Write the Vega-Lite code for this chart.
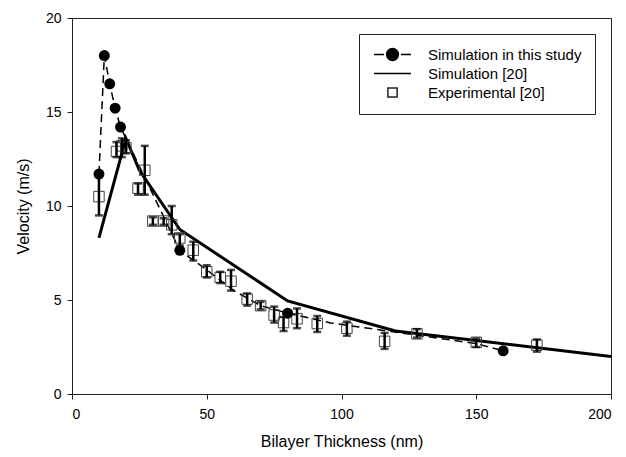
{
  "$schema": "https://vega.github.io/schema/vega-lite/v6.json",
  "autosize": "none",
  "width": 539,
  "height": 376,
  "padding": {"left": 72, "top": 18, "right": 15, "bottom": 63},
  "background": "white",
  "config": {
    "font": "Liberation Sans",
    "view": {"stroke": "#222", "strokeWidth": 1},
    "axis": {"grid": false, "domainColor": "#222", "tickColor": "#222", "tickSize": 5, "labelFontSize": 14, "labelColor": "black", "titleFontSize": 16, "titleFontWeight": "normal", "titleColor": "black", "labelFont": "Liberation Sans", "titleFont": "Liberation Sans"},
    "legend": {"title": null, "orient": "none", "legendX": 287, "legendY": 16, "strokeColor": "#222", "padding": 13, "labelFontSize": 15, "labelFont": "Liberation Sans", "labelColor": "black", "symbolSize": 144, "symbolStrokeWidth": 1.5, "symbolOffset": 13, "labelOffset": 28, "rowPadding": 2}
  },
  "datasets": {
    "sim": [
      {"x": 10, "y": 11.7}, {"x": 12, "y": 18.0}, {"x": 14, "y": 16.5}, {"x": 16, "y": 15.2}, {"x": 18, "y": 14.2},
      {"x": 40, "y": 7.64}, {"x": 80, "y": 4.3}, {"x": 160, "y": 2.3}
    ],
    "dash": [
      {"x": 10, "y": 11.7}, {"x": 12, "y": 18.0}, {"x": 14, "y": 16.5}, {"x": 16, "y": 15.2}, {"x": 18, "y": 14.2},
      {"x": 40, "y": 7.64}, {"x": 50, "y": 6.6}, {"x": 60, "y": 5.5}, {"x": 70, "y": 4.7}, {"x": 80, "y": 4.3},
      {"x": 96, "y": 3.78}, {"x": 150, "y": 2.68}, {"x": 160, "y": 2.3}
    ],
    "lit": [
      {"x": 10, "y": 8.3}, {"x": 20, "y": 13.6}, {"x": 25, "y": 11.9}, {"x": 40, "y": 8.75},
      {"x": 80, "y": 4.95}, {"x": 120, "y": 3.35}, {"x": 200, "y": 2.0}
    ],
    "exp": [
      {"x": 10, "y": 10.5, "lo": 9.5, "hi": 11.6},
      {"x": 16.5, "y": 12.9, "lo": 12.6, "hi": 13.4},
      {"x": 18.5, "y": 13.2, "lo": 12.6, "hi": 13.6},
      {"x": 20, "y": 13.1, "lo": 12.8, "hi": 13.5},
      {"x": 24.5, "y": 10.95, "lo": 10.6, "hi": 11.2},
      {"x": 27, "y": 11.9, "lo": 10.6, "hi": 13.2},
      {"x": 30, "y": 9.2, "lo": 9.0, "hi": 9.4},
      {"x": 34, "y": 9.2, "lo": 9.0, "hi": 9.35},
      {"x": 37, "y": 9.0, "lo": 8.5, "hi": 10.0},
      {"x": 40, "y": 8.3, "lo": 7.9, "hi": 8.5},
      {"x": 45, "y": 7.65, "lo": 7.1, "hi": 8.1},
      {"x": 50, "y": 6.5, "lo": 6.2, "hi": 6.85},
      {"x": 55, "y": 6.2, "lo": 5.9, "hi": 6.5},
      {"x": 59, "y": 6.0, "lo": 5.5, "hi": 6.6},
      {"x": 65, "y": 5.05, "lo": 4.7, "hi": 5.35},
      {"x": 70, "y": 4.7, "lo": 4.5, "hi": 4.9},
      {"x": 75, "y": 4.2, "lo": 3.8, "hi": 4.65},
      {"x": 78.5, "y": 3.8, "lo": 3.35, "hi": 4.1},
      {"x": 83.5, "y": 4.0, "lo": 3.5, "hi": 4.55},
      {"x": 91, "y": 3.75, "lo": 3.3, "hi": 4.15},
      {"x": 102, "y": 3.5, "lo": 3.1, "hi": 3.85},
      {"x": 116, "y": 2.8, "lo": 2.4, "hi": 3.25},
      {"x": 128, "y": 3.2, "lo": 3.0, "hi": 3.45},
      {"x": 150, "y": 2.75, "lo": 2.5, "hi": 2.95},
      {"x": 172.5, "y": 2.6, "lo": 2.25, "hi": 2.9}
    ],
    "leg": [
      {"series": "Simulation in this study"}, {"series": "Simulation [20]"}, {"series": "Experimental [20]"}
    ]
  },
  "encoding": {
    "x": {"field": "x", "type": "quantitative", "scale": {"domain": [0, 200], "nice": false}, "axis": {"values": [0, 50, 100, 150, 200], "title": "Bilayer Thickness (nm)", "labelPadding": 8, "titlePadding": 12}},
    "y": {"field": "y", "type": "quantitative", "scale": {"domain": [0, 20], "nice": false}, "axis": {"values": [0, 5, 10, 15, 20], "title": "Velocity (m/s)", "labelPadding": 6, "titlePadding": 14}}
  },
  "layer": [
    {"data": {"name": "lit"}, "mark": {"type": "line", "color": "black", "strokeWidth": 3}},
    {"data": {"name": "dash"}, "mark": {"type": "line", "color": "black", "strokeWidth": 1.5, "strokeDash": [8, 5]}},
    {"data": {"name": "exp"}, "mark": {"type": "point", "shape": "square", "size": 110, "stroke": "#444", "strokeWidth": 1, "fill": "white", "fillOpacity": 0, "opacity": 1}},
    {"data": {"name": "exp"}, "mark": {"type": "errorbar", "ticks": {"size": 8, "thickness": 2.5, "color": "black"}, "rule": {"strokeWidth": 2.5, "color": "black"}},
     "encoding": {"y": {"field": "lo", "type": "quantitative"}, "y2": {"field": "hi"}}},
    {"data": {"name": "sim"}, "mark": {"type": "point", "shape": "circle", "size": 120, "filled": true, "color": "black", "opacity": 1}},
    {"data": {"name": "leg"}, "transform": [{"filter": "false"}],
     "mark": {"type": "point", "size": 144, "strokeWidth": 1.5, "opacity": 1},
     "encoding": {
       "x": {"datum": 0, "type": "quantitative"},
       "y": {"datum": 0, "type": "quantitative"},
       "shape": {"field": "series", "type": "nominal", "scale": {"domain": ["Simulation in this study", "Simulation [20]", "Experimental [20]"], "range": ["M-3.08,0H-1.4M1.4,0H3.08M-0.98,0A0.98,0.98,0,1,0,0.98,0A0.98,0.98,0,1,0,-0.98,0Z", "M-3.08,0H3.08", "M-0.77,-0.77H0.77V0.77H-0.77Z"]}},
       "fill": {"field": "series", "type": "nominal", "scale": {"domain": ["Simulation in this study", "Simulation [20]", "Experimental [20]"], "range": ["black", "transparent", "white"]}},
       "stroke": {"field": "series", "type": "nominal", "scale": {"domain": ["Simulation in this study", "Simulation [20]", "Experimental [20]"], "range": ["black", "black", "#222"]}}
     }}
  ]
}
